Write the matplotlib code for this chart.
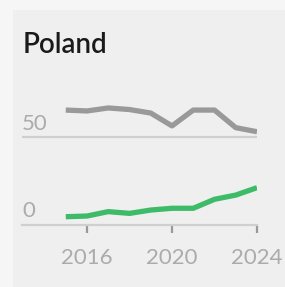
import matplotlib.pyplot as plt
from matplotlib.patches import Rectangle

plt.rcParams['font.family'] = ['Lato', 'DejaVu Sans']

# Daten
jahre = [2015, 2016, 2017, 2018, 2019, 2020, 2021, 2022, 2023, 2024]
grau = [65.3, 64.8, 66.5, 65.6, 63.6, 56.3, 65.3, 65.3, 55.3, 53.0]
gruen = [4.7, 5.1, 7.6, 6.6, 8.5, 9.5, 9.5, 14.6, 17.0, 21.2]
xticks = [2016, 2020, 2024]
titel = 'Poland'

W, H = 285, 287
fig = plt.figure(figsize=(W / 100, H / 100), dpi=100, facecolor='#f6f6f6')

# Panel
fig.patches.append(Rectangle((13 / W, 0), 1, 1 - 10 / H, transform=fig.transFigure,
                             facecolor='#efefef', edgecolor='none', zorder=0))

ax = fig.add_axes([22 / W, 1 - 225 / H, 235 / W, 132 / H])
ax.set_zorder(2)
ax.set_facecolor('none')
ax.set_xlim(2012.94, 2024)
ax.set_ylim(0, 75)

for s in ['top', 'right', 'left']:
    ax.spines[s].set_visible(False)
ax.spines['bottom'].set_color('#cfcfcf')
ax.spines['bottom'].set_linewidth(1.6)
ax.axhline(50, color='#cfcfcf', lw=1.6, zorder=1)

ax.plot(jahre, grau, color='#999999', lw=3.8, solid_capstyle='butt', zorder=3)
ax.plot(jahre, gruen, color='#3dbb68', lw=3.8, solid_capstyle='butt', zorder=3)

ax.set_yticks([])
ax.set_xticks(xticks)
ax.set_xticklabels([str(t) for t in xticks], fontsize=16, color='#ababab')
ax.tick_params(axis='x', direction='out', length=5.5, width=1.6, color='#999999', pad=11)

ax.text(2012.94, 57.4, '50', fontsize=16, color='#ababab', va='center', ha='left')
ax.text(2012.94, 8.1, '0', fontsize=16, color='#ababab', va='center', ha='left')

fig.text(23 / W, 1 - 53 / H, titel, fontsize=20, fontweight='semibold', color='#1a1a1a',
         va='baseline', ha='left')

fig.savefig('out.png', dpi=100, facecolor=fig.get_facecolor())
